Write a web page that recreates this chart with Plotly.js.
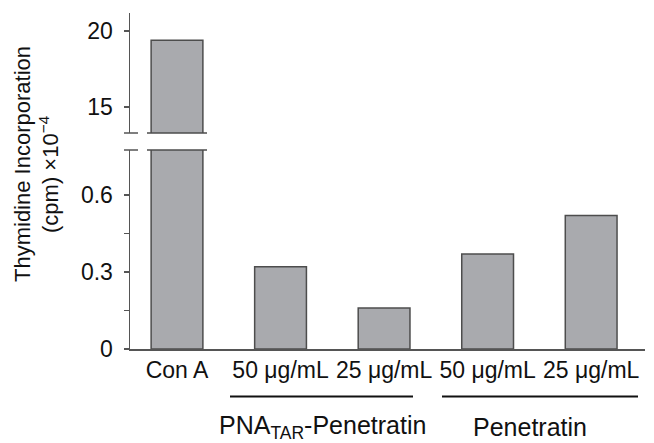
<!DOCTYPE html>
<html>
<head>
<meta charset="utf-8">
<script src="https://cdn.plot.ly/plotly-3.0.1.min.js"></script>
<style>html,body{margin:0;padding:0;background:#fff;}#chart{width:654px;height:443px;}</style>
</head>
<body>
<div id="chart"></div>
<script>
var categories = ["Con A", "50 μg/mL", "25 μg/mL", "50 μg/mL ", "25 μg/mL "];
var tickLabels = ["Con A", "50 μg/mL", "25 μg/mL", "50 μg/mL", "25 μg/mL"];
var values = [19.4, 0.32, 0.16, 0.37, 0.52];
var upperValues = [19.4, null, null, null, null];
var groups = ["PNA<sub>TAR</sub>-Penetratin", "Penetratin"];
var lowerTicks = [0, 0.3, 0.6];
var lowerTickText = ["0", "0.3", "0.6"];
var upperTicks = [15, 20];
var upperTickText = ["15", "20"];

var xs = categories.map(function(c, i){ return i; });
var barFill = "#a9aaae";
var barLine = "#4d4d4d";
var axisCol = "#555555";
var fam = "Liberation Sans, Arial, sans-serif";
var tickFont = {family: fam, size: 23, color: "#111"};
var titleFont = {family: fam, size: 22, color: "#111"};
var groupFont = {family: fam, size: 25, color: "#111"};

var traces = [
  {type: "bar", x: xs, y: values, width: 0.5, xaxis: "x", yaxis: "y",
   marker: {color: barFill, line: {color: barLine, width: 1.5}}, hoverinfo: "skip"},
  {type: "bar", x: xs, y: upperValues, width: 0.5, xaxis: "x", yaxis: "y2",
   marker: {color: barFill, line: {color: barLine, width: 1.5}}, hoverinfo: "skip"}
];

var lowTop = 199/336, upBot = 216/336;
function px(v){ return (v-130)/515; }
function py(v){ return (349-v)/336; }
var shapes = [
  {type:"line", xref:"paper", yref:"paper", x0:px(124), x1:px(138), y0:upBot, y1:upBot, line:{color:axisCol, width:1.5}},
  {type:"line", xref:"paper", yref:"paper", x0:px(124), x1:px(138), y0:lowTop, y1:lowTop, line:{color:axisCol, width:1.5}},
  {type:"line", xref:"paper", yref:"paper", x0:px(147), x1:px(207), y0:upBot, y1:upBot, line:{color:barLine, width:1.5}},
  {type:"line", xref:"paper", yref:"paper", x0:px(147), x1:px(207), y0:lowTop, y1:lowTop, line:{color:barLine, width:1.5}},
  {type:"line", xref:"paper", yref:"paper", x0:px(230), x1:px(413), y0:py(396.5), y1:py(396.5), line:{color:"#111", width:2}},
  {type:"line", xref:"paper", yref:"paper", x0:px(442), x1:px(638), y0:py(396.5), y1:py(396.5), line:{color:"#111", width:2}}
];

var annotations = [
  {text: groups[0], xref:"paper", yref:"paper", x:px(322), y:py(427), xanchor:"center", yanchor:"middle", showarrow:false, font:groupFont},
  {text: groups[1], xref:"paper", yref:"paper", x:px(530), y:py(427), xanchor:"center", yanchor:"middle", showarrow:false, font:groupFont},
  {text: "Thymidine Incorporation", xref:"paper", yref:"paper", x:px(22), y:py(164), xanchor:"center", yanchor:"middle", textangle:-90, showarrow:false, font:titleFont},
  {text: "(cpm) ×10<sup>−4</sup>", xref:"paper", yref:"paper", x:px(49), y:py(174), xanchor:"center", yanchor:"middle", textangle:-90, showarrow:false, font:titleFont}
];

var layout = {
  width: 654, height: 443,
  margin: {l: 130, r: 9, t: 13, b: 94},
  paper_bgcolor: "#fff", plot_bgcolor: "#fff",
  showlegend: false, barmode: "overlay",
  font: tickFont,
  xaxis: {range: [-0.454, 4.52], tickvals: xs, ticktext: tickLabels, showline: true, linecolor: axisCol, linewidth: 1.5,
          ticks: "", showgrid: false, zeroline: false, anchor: "y", tickfont: tickFont, ticklabelstandoff: 0},
  yaxis: {domain: [0, lowTop], range: [0, 0.775], tickvals: lowerTicks, ticktext: lowerTickText, showline: true,
          linecolor: axisCol, linewidth: 1.5, ticks: "outside", ticklen: 5, tickcolor: axisCol, tickwidth: 1.5,
          minor: {tickvals: [0.15, 0.45], ticks: "outside", ticklen: 5, tickcolor: axisCol, tickwidth: 1.2, showgrid: false},
          showgrid: false, zeroline: false, anchor: "x", tickfont: tickFont, ticklabelstandoff: 6},
  yaxis2: {domain: [upBot, 1], range: [13.3, 21.2], tickvals: upperTicks, ticktext: upperTickText, showline: true,
          linecolor: axisCol, linewidth: 1.5, ticks: "outside", ticklen: 5, tickcolor: axisCol, tickwidth: 1.5,
          showgrid: false, zeroline: false, anchor: "x", tickfont: tickFont, ticklabelstandoff: 6},
  shapes: shapes,
  annotations: annotations
};

Plotly.newPlot("chart", traces, layout, {staticPlot: true, displayModeBar: false});
</script>
</body>
</html>
